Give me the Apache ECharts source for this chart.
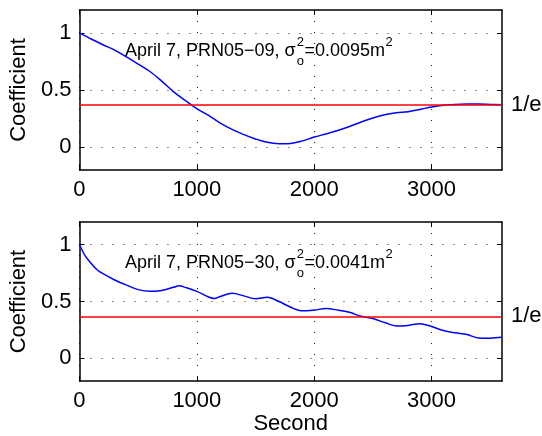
<!DOCTYPE html>
<html><head><meta charset="utf-8">
<script src="https://cdn.jsdelivr.net/npm/echarts@6/dist/echarts.min.js"></script>
<style>html,body{margin:0;padding:0;background:#fff}#c{width:542px;height:436px}</style>
</head><body><div id="c"></div>
<script>
const topSeconds = [0,100,200,300,400,500,600,700,800,900,1000,1100,1200,1300,1400,1500,1600,1700,1800,1900,2000,2100,2200,2300,2400,2500,2600,2700,2800,2900,3000,3100,3200,3300,3400,3500,3600];
const topCoef = [1.0,0.946,0.896,0.849,0.789,0.727,0.662,0.578,0.486,0.41,0.338,0.277,0.21,0.155,0.11,0.072,0.042,0.03,0.032,0.055,0.088,0.115,0.145,0.18,0.22,0.255,0.283,0.30,0.31,0.33,0.352,0.367,0.374,0.377,0.377,0.374,0.37];
const bottomSeconds = [0,50,100,150,200,300,400,500,600,700,800,850,900,1000,1100,1150,1200,1300,1400,1500,1600,1700,1800,1900,2000,2100,2200,2300,2400,2500,2600,2700,2800,2900,3000,3100,3200,3300,3400,3500,3600];
const bottomCoef = [1.0,0.9,0.835,0.78,0.745,0.69,0.645,0.605,0.59,0.598,0.625,0.638,0.625,0.59,0.54,0.527,0.545,0.572,0.55,0.525,0.538,0.5,0.45,0.418,0.425,0.438,0.425,0.405,0.37,0.35,0.315,0.285,0.29,0.305,0.28,0.245,0.225,0.21,0.18,0.178,0.185];
const xTicks = [0,1000,2000,3000];
const yTicks = [0,0.5,1];
const oneOverE = 1/Math.E;
const topLabel = ['April 7, PRN05\u221209, \u03c3', 'o', '2', '=0.0095m', '2'];
const bottomLabel = ['April 7, PRN05\u221230, \u03c3', 'o', '2', '=0.0041m', '2'];

const FONT = '"Liberation Sans", Arial, Helvetica, sans-serif';
const chart = echarts.init(document.getElementById('c'), null, {renderer:'canvas'});

const grids = [
  {left:78, top:10, width:424, height:160},
  {left:78, top:222, width:424, height:160}
];
const axisLineStyle = {color:'#000', width:1.5};
function xAxes(gi, showName){
  return [{
    type:'value', gridIndex:gi, min:0, max:3600, position:'bottom',
    axisLine:{show:true, onZero:false, lineStyle:axisLineStyle},
    axisTick:{show:true, inside:true, length:5, customValues:xTicks, lineStyle:{color:'#000'}},
    axisLabel:{customValues:xTicks, formatter:v=>String(v), fontSize:22, color:'#000', fontFamily:FONT, margin:9},
    splitLine:{show:true, lineStyle:{color:'#222', width:1, type:[1,10]}},
    name: showName ? 'Second' : '', nameLocation:'middle', nameGap:30,
    nameTextStyle:{fontSize:22, color:'#000', fontFamily:FONT}
  },{
    type:'value', gridIndex:gi, min:0, max:3600, position:'top',
    axisLine:{show:true, onZero:false, lineStyle:axisLineStyle},
    axisTick:{show:true, inside:true, length:5, customValues:xTicks, lineStyle:{color:'#000'}},
    axisLabel:{show:false}, splitLine:{show:false}
  }];
}
function yAxes(gi){
  return [{
    type:'value', gridIndex:gi, min:-0.2, max:1.2, position:'left',
    axisLine:{show:true, onZero:false, lineStyle:axisLineStyle},
    axisTick:{show:true, inside:true, length:5, customValues:yTicks, lineStyle:{color:'#000'}},
    axisLabel:{customValues:yTicks, formatter:v=>String(v), fontSize:22, color:'#000', fontFamily:FONT, margin:8},
    splitLine:{show:true, lineStyle:{color:'#222', width:1, type:[1,10]}},
    name:'Coefficient', nameLocation:'middle', nameGap:46,
    nameTextStyle:{fontSize:22, color:'#000', fontFamily:FONT}
  },{
    type:'value', gridIndex:gi, min:-0.2, max:1.2, position:'right',
    axisLine:{show:true, onZero:false, lineStyle:axisLineStyle},
    axisTick:{show:true, inside:true, length:5, customValues:yTicks, lineStyle:{color:'#000'}},
    axisLabel:{show:false}, splitLine:{show:false}
  }];
}
function pairs(xs, ys){ return xs.map((x,i)=>[x, ys[i]]); }
function mkSeries(xi, yi, xs, ys){
  return {
    type:'line', xAxisIndex:xi, yAxisIndex:yi, data:pairs(xs, ys),
    showSymbol:false, smooth:0.35, z:3,
    lineStyle:{color:'#0000ff', width:1.5},
    markLine:{
      silent:true, symbol:'none', animation:false,
      lineStyle:{color:'#ff0000', width:1.5, type:'solid'},
      label:{show:true, position:'end', formatter:'1/e', fontSize:22, color:'#000', fontFamily:FONT, distance:9},
      data:[{yAxis:oneOverE}]
    }
  };
}

const mctx = document.createElement('canvas').getContext('2d');
function measure(t, size){ mctx.font = size + 'px ' + FONT; return mctx.measureText(t).width; }
function annotation(parts, x, y){
  const els = [];
  const main = 18, small = 13;
  const w0 = measure(parts[0], main);
  els.push({type:'text', x:x, y:y, style:{text:parts[0], font:main+'px '+FONT, fill:'#000', verticalAlign:'middle'}});
  const sx = x + w0 + 1;
  els.push({type:'text', x:sx, y:y+10, style:{text:parts[1], font:small+'px '+FONT, fill:'#000', verticalAlign:'middle'}});
  els.push({type:'text', x:sx, y:y-9, style:{text:parts[2], font:small+'px '+FONT, fill:'#000', verticalAlign:'middle'}});
  const x2 = sx + Math.max(measure(parts[1], small), measure(parts[2], small)) + 0.5;
  els.push({type:'text', x:x2, y:y, style:{text:parts[3], font:main+'px '+FONT, fill:'#000', verticalAlign:'middle'}});
  const x3 = x2 + measure(parts[3], main) + 0.5;
  els.push({type:'text', x:x3, y:y-9, style:{text:parts[4], font:small+'px '+FONT, fill:'#000', verticalAlign:'middle'}});
  return els;
}

chart.setOption({
  animation:false,
  backgroundColor:'#fff',
  textStyle:{fontFamily:FONT},
  grid:grids,
  xAxis:[...xAxes(0,false), ...xAxes(1,true)],
  yAxis:[...yAxes(0), ...yAxes(1)],
  series:[mkSeries(0,0,topSeconds,topCoef), mkSeries(2,2,bottomSeconds,bottomCoef)],
  graphic:[...annotation(topLabel,125,51), ...annotation(bottomLabel,125,263)]
});
</script></body></html>
